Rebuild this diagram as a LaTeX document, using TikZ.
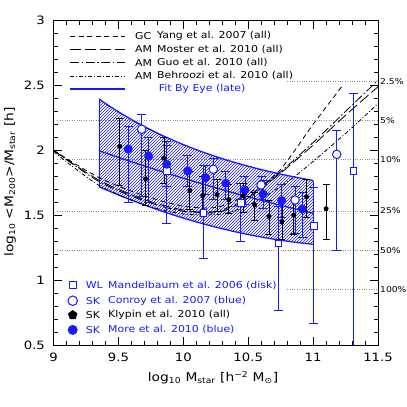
\documentclass[tikz,border=0pt]{standalone}
\usepackage{fontspec}
\setmainfont{DejaVu Sans}[FakeStretch=1.15]
\usetikzlibrary{arrows.meta}
\usetikzlibrary{patterns}
\usetikzlibrary{shapes.geometric}
\definecolor{plotblue}{RGB}{25,25,255}

\begin{document}
\begin{tikzpicture}[x=129.8pt,y=129.8pt,
    axtick/.style={line width=0.9pt},
    ticklab/.style={font=\fontsize{11.5}{13}\selectfont, inner sep=0pt},
    axlab/.style={font=\fontsize{12}{14}\selectfont, inner sep=0pt},
    pclab/.style={font=\fontsize{8}{9}\selectfont, anchor=west, inner sep=0pt},
    guide/.style={black!45, line width=0.6pt, dash pattern=on 0.8pt off 1.6pt},
    legtext/.style={font=\fontsize{9.5}{11}\selectfont, anchor=west, inner sep=0pt},
    yangline/.style={line width=0.8pt, dash pattern=on 5pt off 3.5pt},
    mosterline/.style={line width=0.8pt, dash pattern=on 11pt off 4pt},
    guoline/.style={line width=0.8pt, dash pattern=on 9pt off 2.5pt on 1.5pt off 2.5pt},
    behrline/.style={line width=0.8pt, dash pattern=on 4pt off 2pt on 1pt off 2pt},
    fitline/.style={plotblue, line width=1.3pt},
    kbar/.style={line width=0.7pt, {Bar[width=7pt]}-{Bar[width=7pt]}},
    bbar/.style={plotblue, line width=0.7pt, {Bar[width=9pt]}-{Bar[width=9pt]}},
    kmark/.style={regular polygon, regular polygon sides=5, fill=black, minimum size=5.5pt, inner sep=0pt},
    fmark/.style={circle, fill=plotblue, minimum size=9pt, inner sep=0pt},
    omark/.style={circle, draw=plotblue, fill=white, line width=1pt, minimum size=8.5pt, inner sep=0pt},
    smark/.style={rectangle, draw=plotblue, fill=white, line width=0.8pt, minimum size=6.5pt, inner sep=0pt}]
    \useasboundingbox (8.5878,0.0223) rectangle (11.7234,3.1579);

    \foreach \p/\v in {5/2.231,10/1.930,25/1.532,50/1.231}
        \draw[guide] (9.03,\v) -- (11.5,\v);
    \foreach \p/\v in {2.5/2.532,100/0.930}
        \draw[guide] (10.8,\v) -- (11.5,\v);
    \foreach \p/\v in {2.5/2.532,5/2.231,10/1.930,25/1.532,50/1.231,100/0.930}
        \node[pclab] (pc\p) at (11.515,\v) {\p\%};

    \fill[pattern=north east lines, pattern color=plotblue]
        plot[domain=9.35:11, samples=40] (\x,{1.555+0.84*exp(-(\x-9.35)/1.2)})
        -- plot[domain=11:9.35, samples=40] (\x,{1.72-0.4396*(\x-9.35)+0.1033*(\x-9.35)^2}) -- cycle;
    \draw[plotblue, line width=0.5pt] (9.35,1.72) -- (9.35,2.395) (11,1.276) -- (11,1.767);
    \draw[fitline] plot[domain=9.35:11, samples=40] (\x,{1.555+0.84*exp(-(\x-9.35)/1.2)});
    \draw[fitline] plot[domain=9.35:11, samples=40] (\x,{1.72-0.4396*(\x-9.35)+0.1033*(\x-9.35)^2});
    \draw[fitline] plot[domain=9.35:11, samples=40] (\x,{1.997-0.3486*(\x-9.35)+0.0342*(\x-9.35)^2});

    \draw[yangline] plot[smooth] coordinates {(9,2.0) (9.35,1.79) (9.7,1.65) (10.0,1.57) (10.25,1.56) (10.45,1.64) (10.72,1.82) (11.0,2.2) (11.22,2.49)};
    \draw[mosterline] plot[smooth] coordinates {(9,2.0) (9.35,1.77) (9.7,1.62) (10.0,1.54) (10.25,1.52) (10.45,1.6) (10.72,1.8) (11.0,2.04) (11.25,2.27) (11.5,2.49)};
    \draw[guoline] plot[smooth] coordinates {(9,2.0) (9.35,1.76) (9.7,1.61) (10.0,1.53) (10.25,1.53) (10.45,1.61) (10.72,1.81) (11.0,2.06) (11.25,2.3) (11.5,2.54)};
    \draw[behrline] plot[smooth] coordinates {(9,1.99) (9.35,1.73) (9.7,1.58) (10.0,1.51) (10.3,1.51) (10.55,1.6) (10.86,1.8) (11.25,2.13) (11.5,2.36)};

    \foreach \x/\y/\t/\b in {9.872/1.841/2.07/1.432, 10.154/1.519/1.887/1.168, 10.442/1.596/1.75/1.296,
        10.732/1.283/1.57/0.764, 11.005/1.419/1.72/0.667}
        \draw[bbar] (\x,\b) -- (\x,\t);
    \draw[plotblue, line width=0.7pt, -{Bar[width=9pt]}] (11.31,0.5) -- (11.31,2.439);
    \foreach \x/\y/\t/\b in {9.679/2.162/2.277/1.64, 10.231/1.854/1.94/1.62, 10.599/1.733/1.8/1.62,
        10.861/1.617/1.727/1.36, 11.182/1.969/2.156/1.226}
        \draw[bbar] (\x,\b) -- (\x,\t);
    \foreach \x/\y/\t/\b in {9.576/2.01/2.19/1.6, 9.733/1.956/2.1/1.6, 9.872/1.892/2.04/1.72,
        10.034/1.841/1.96/1.72, 10.172/1.789/1.89/1.66, 10.327/1.746/1.84/1.62, 10.475/1.694/1.8/1.58,
        10.614/1.663/1.77/1.55, 10.758/1.612/1.74/1.48, 10.917/1.548/1.68/1.33}
        \draw[bbar] (\x,\b) -- (\x,\t);
    \foreach \x/\y/\t/\b in {9.51/2.03/2.25/1.73, 9.71/1.78/2.0/1.57, 9.85/1.94/2.1/1.74,
        10.05/1.69/1.84/1.54, 10.15/1.65/1.8/1.52, 10.26/1.66/1.78/1.53, 10.35/1.62/1.74/1.51,
        10.46/1.65/1.75/1.52, 10.55/1.58/1.68/1.46, 10.66/1.49/1.62/1.35, 10.76/1.45/1.6/1.31,
        10.85/1.5/1.62/1.35, 10.95/1.64/1.78/1.48, 11.1/1.55/1.74/1.31}
        \draw[kbar] (\x,\b) -- (\x,\t);

    \foreach \x/\y [count=\i] in {9.872/1.841, 10.154/1.519, 10.442/1.596, 10.732/1.283, 11.005/1.419, 11.31/1.843}
        \node[smark] (wl\i) at (\x,\y) {};
    \foreach \x/\y [count=\i] in {9.679/2.162, 10.231/1.854, 10.599/1.733, 10.861/1.617, 11.182/1.969}
        \node[omark] (cr\i) at (\x,\y) {};
    \foreach \x/\y [count=\i] in {9.576/2.01, 9.733/1.956, 9.872/1.892, 10.034/1.841, 10.172/1.789,
        10.327/1.746, 10.475/1.694, 10.614/1.663, 10.758/1.612, 10.917/1.548}
        \node[fmark] (mo\i) at (\x,\y) {};
    \foreach \x/\y [count=\i] in {9.51/2.03, 9.71/1.78, 9.85/1.94, 10.05/1.69, 10.15/1.65, 10.26/1.66,
        10.35/1.62, 10.46/1.65, 10.55/1.58, 10.66/1.49, 10.76/1.45, 10.85/1.5, 10.95/1.64, 11.1/1.55}
        \node[kmark] (kl\i) at (\x,\y) {};

    \draw[axtick] (9,0.5) rectangle (11.5,3);
    \foreach \i in {1,...,24} {
        \draw[axtick] ({9+\i/10},0.5) -- ++(0,0.031) ({9+\i/10},3) -- ++(0,-0.031);
        \draw[axtick] (9,{0.5+\i/10}) -- ++(0.031,0) (11.5,{0.5+\i/10}) -- ++(-0.031,0);
    }
    \foreach \v in {9.5,10,10.5,11}
        \draw[axtick] (\v,0.5) -- ++(0,0.062) (\v,3) -- ++(0,-0.062);
    \foreach \v in {1,1.5,2,2.5}
        \draw[axtick] (9,\v) -- ++(0.062,0) (11.5,\v) -- ++(-0.062,0);
    \foreach \v in {9,9.5,10,10.5,11,11.5}
        \node[ticklab] (xt\v) at (\v,0.402) {\v};
    \foreach \v in {0.5,1,1.5,2,2.5,3}
        \node[ticklab, anchor=east] (yt\v) at (8.935,\v) {\v};
    \node[axlab] (xlab) at (10.229,0.246) {log\textsubscript{10} M\textsubscript{star} [h\textsuperscript{−2} M\textsubscript{⊙}]};
    \node[axlab, rotate=90] (ylab) at (8.665,1.756) {log\textsubscript{10} <M\textsubscript{200}>/M\textsubscript{star} [h]};

    \coordinate (la1) at (9.127,2.881);
    \coordinate (la2) at (9.127,2.779);
    \coordinate (la3) at (9.127,2.676);
    \coordinate (la4) at (9.127,2.573);
    \coordinate (la5) at (9.127,2.470);
    \draw[yangline] (la1) -- ++(0.424,0);
    \draw[mosterline] (la2) -- ++(0.424,0);
    \draw[guoline] (la3) -- ++(0.424,0);
    \draw[behrline] (la4) -- ++(0.424,0);
    \draw[fitline, line width=1.6pt] (la5) -- ++(0.424,0);
    \node[legtext] (gc) at (9.628,2.881) {GC};
    \node[legtext] (am1) at (9.628,2.779) {AM};
    \node[legtext] (am2) at (9.628,2.676) {AM};
    \node[legtext] (am3) at (9.628,2.573) {AM};
    \node[legtext] (yang) at (9.797,2.881) {Yang et al. 2007 (all)};
    \node[legtext] (moster) at (9.797,2.779) {Moster et al. 2010 (all)};
    \node[legtext] (guo) at (9.797,2.676) {Guo et al. 2010 (all)};
    \node[legtext] (behr) at (9.797,2.573) {Behroozi et al. 2010 (all)};
    \node[legtext, plotblue] (fit) at (9.81,2.470) {Fit By Eye (late)};

    \node[smark, minimum size=7pt] (lwl) at (9.148,0.962) {};
    \node[omark, minimum size=9.5pt] (lcr) at (9.148,0.841) {};
    \node[kmark, minimum size=10pt] (lkl) at (9.148,0.731) {};
    \node[fmark, minimum size=10pt] (lmo) at (9.148,0.616) {};
    \node[legtext, plotblue] (wl) at (9.248,0.962) {WL};
    \node[legtext, plotblue] (sk1) at (9.248,0.841) {SK};
    \node[legtext] (sk2) at (9.248,0.731) {SK};
    \node[legtext, plotblue] (sk3) at (9.248,0.616) {SK};
    \node[legtext, plotblue] (mandel) at (9.42,0.962) {Mandelbaum et al. 2006 (disk)};
    \node[legtext, plotblue] (conroy) at (9.42,0.841) {Conroy et al. 2007 (blue)};
    \node[legtext] (klypin) at (9.42,0.731) {Klypin et al. 2010 (all)};
    \node[legtext, plotblue] (more) at (9.42,0.616) {More et al. 2010 (blue)};
\end{tikzpicture}
\end{document}
